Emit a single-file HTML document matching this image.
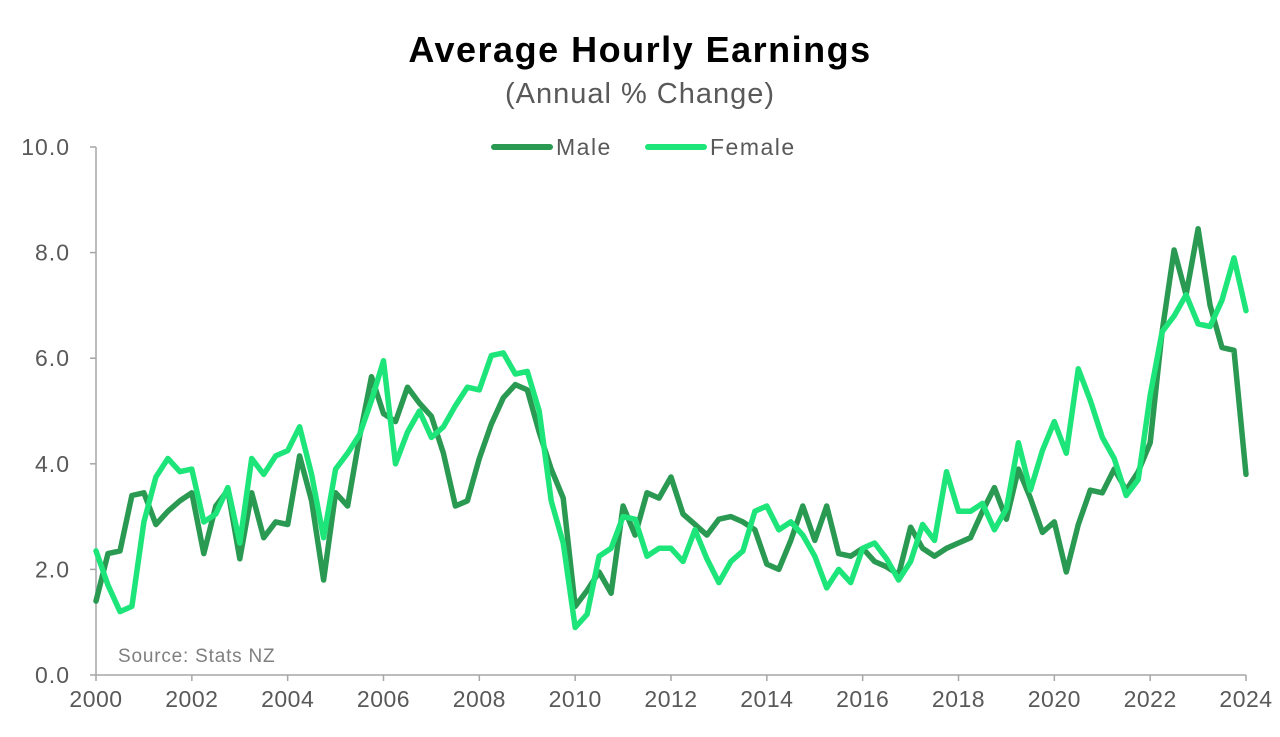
<!DOCTYPE html>
<html><head><meta charset="utf-8"><style>
body{margin:0;background:#fff;}
svg{display:block;font-family:"Liberation Sans",sans-serif;}
</style></head><body>
<svg id="chart" width="1280" height="737" viewBox="0 0 1280 737">
<text x="640" y="62" text-anchor="middle" font-size="36" font-weight="bold" fill="#000" letter-spacing="1.5">Average Hourly Earnings</text>
<text x="640" y="103" text-anchor="middle" font-size="29" fill="#595959" letter-spacing="1">(Annual % Change)</text>
<g>
<line x1="494" y1="147" x2="550" y2="147" stroke="#2a9a52" stroke-width="6" stroke-linecap="round"/>
<text x="556" y="155" font-size="23" fill="#595959" letter-spacing="1.5">Male</text>
<line x1="648" y1="147" x2="704" y2="147" stroke="#1ee57a" stroke-width="6" stroke-linecap="round"/>
<text x="710" y="155" font-size="23" fill="#595959" letter-spacing="1.5">Female</text>
</g>
<g id="axes"></g>
<g id="series"></g>
<text x="118" y="662" font-size="19" fill="#7f7f7f" letter-spacing="0.8">Source: Stats NZ</text>
</svg>
<script>
const yTicks=[0,2,4,6,8,10];
const yTickLabels=["0.0","2.0","4.0","6.0","8.0","10.0"];
const xTickYears=[2000,2002,2004,2006,2008,2010,2012,2014,2016,2018,2020,2022,2024];
const startYear=2000;
const male=[1.4,2.3,2.35,3.4,3.45,2.85,3.1,3.3,3.45,2.3,3.2,3.5,2.2,3.45,2.6,2.9,2.85,4.15,3.3,1.8,3.45,3.2,4.5,5.65,4.95,4.8,5.45,5.15,4.9,4.2,3.2,3.3,4.1,4.75,5.25,5.5,5.4,4.6,3.9,3.35,1.3,1.6,1.95,1.55,3.2,2.65,3.45,3.35,3.75,3.05,2.85,2.65,2.95,3.0,2.9,2.75,2.1,2.0,2.55,3.2,2.55,3.2,2.3,2.25,2.4,2.15,2.05,1.9,2.8,2.4,2.25,2.4,2.5,2.6,3.1,3.55,2.95,3.9,3.35,2.7,2.9,1.95,2.85,3.5,3.45,3.9,3.5,3.85,4.4,6.5,8.05,7.2,8.45,7.0,6.2,6.15,3.8];
const female=[2.35,1.7,1.2,1.3,2.9,3.75,4.1,3.85,3.9,2.9,3.05,3.55,2.5,4.1,3.8,4.15,4.25,4.7,3.8,2.6,3.9,4.2,4.55,5.2,5.95,4.0,4.6,5.0,4.5,4.7,5.1,5.45,5.4,6.05,6.1,5.7,5.75,5.0,3.3,2.5,0.9,1.15,2.25,2.4,3.0,2.95,2.25,2.4,2.4,2.15,2.75,2.2,1.75,2.15,2.35,3.1,3.2,2.75,2.9,2.65,2.25,1.65,2.0,1.75,2.4,2.5,2.2,1.8,2.15,2.85,2.55,3.85,3.1,3.1,3.25,2.75,3.15,4.4,3.5,4.25,4.8,4.2,5.8,5.2,4.5,4.1,3.4,3.7,5.3,6.5,6.8,7.2,6.65,6.6,7.1,7.9,6.9];
const X0=96,X1=1246,Y0=675,Y1=147;
const xs=t=>X0+(t-startYear)/24*(X1-X0);
const ys=v=>Y0-v/10*(Y0-Y1);
const NS="http://www.w3.org/2000/svg";
const axes=document.getElementById('axes'),series=document.getElementById('series');
function mk(tag,attrs,parent){const e=document.createElementNS(NS,tag);for(const k in attrs)e.setAttribute(k,attrs[k]);parent.appendChild(e);return e;}
const ya=mk('line',{x1:X0,y1:Y1,x2:X0,y2:Y0,stroke:'#a6a6a6','stroke-width':1.5},axes);


const xa=mk('line',{x1:X0,y1:Y0,x2:X1,y2:Y0,stroke:'#a6a6a6','stroke-width':1.5},axes);


yTicks.forEach((v,i)=>{
 const tk=mk('line',{x1:X0-6,y1:ys(v),x2:X0,y2:ys(v),stroke:'#a6a6a6','stroke-width':1.5},axes);
 
 
 const t=mk('text',{x:X0-26,y:ys(v)+8,'text-anchor':'end','font-size':23,fill:'#595959','letter-spacing':1},axes);
 t.textContent=yTickLabels[i];
 
 
});
xTickYears.forEach(yr=>{
 const tk=mk('line',{x1:xs(yr),y1:Y0,x2:xs(yr),y2:Y0+6,stroke:'#a6a6a6','stroke-width':1.5},axes);
 
 
 const t=mk('text',{x:xs(yr),y:Y0+32,'text-anchor':'middle','font-size':23,fill:'#595959','letter-spacing':0.5},axes);
 t.textContent=String(yr);
 
 
});
function line(arr,color,name){
 const d=arr.map((v,i)=>(i?'L':'M')+xs(startYear+i/4).toFixed(1)+','+ys(v).toFixed(1)).join('');
 const p=mk('path',{d:d,fill:'none',stroke:color,'stroke-width':5.5,'stroke-linejoin':'round','stroke-linecap':'round'},series);
 
 
}
line(male,'#2a9a52','male-line');
line(female,'#1ee57a','female-line');
</script>
</body></html>
